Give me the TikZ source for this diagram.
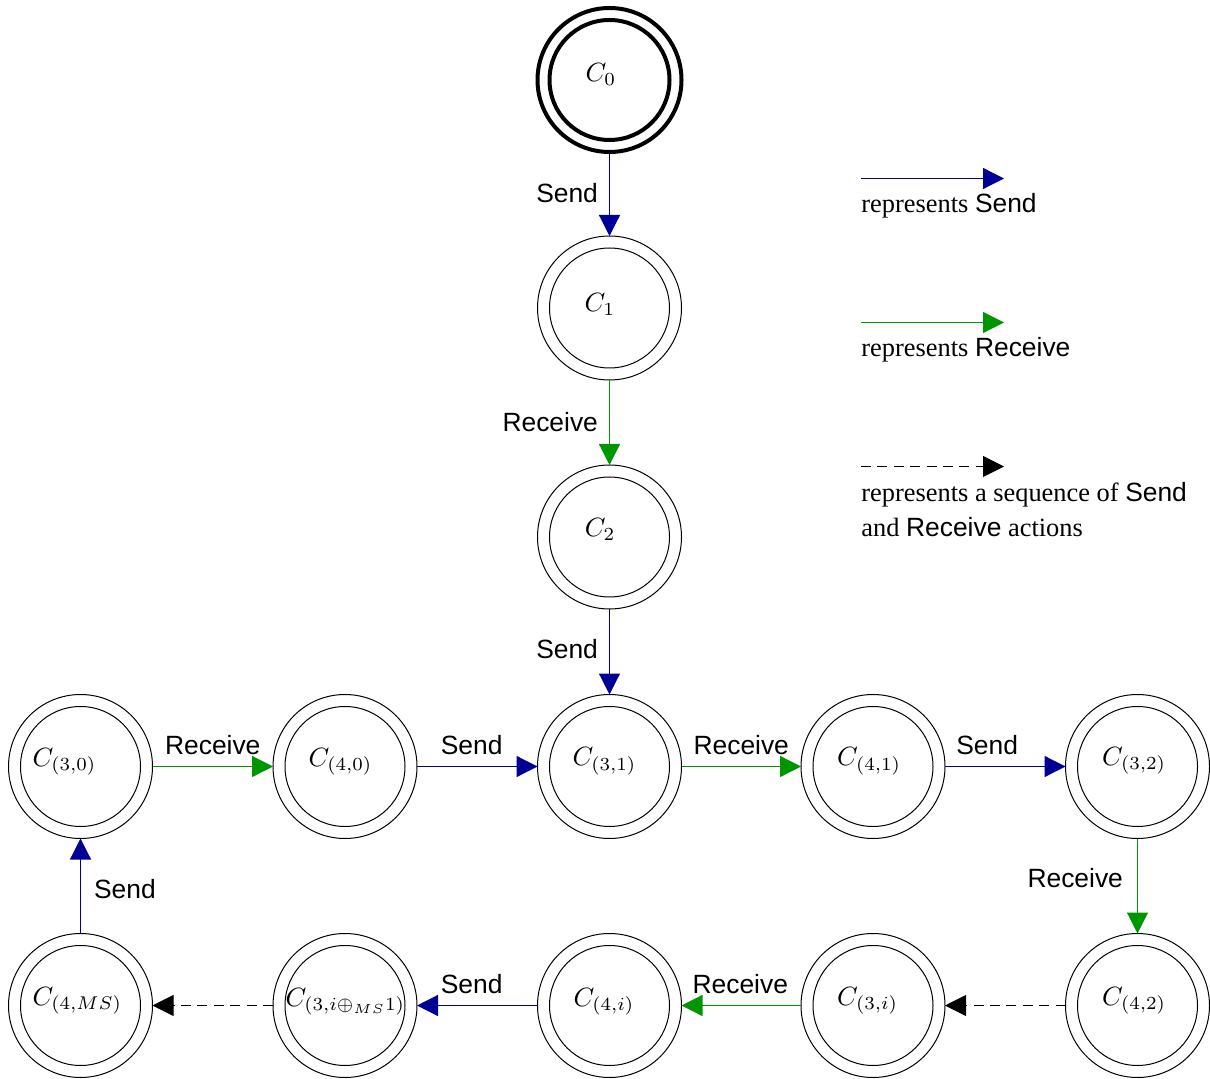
\documentclass[tikz,border=0pt]{standalone}
\usepackage[no-math]{fontspec}
\setmainfont{Liberation Serif}
\newfontfamily\actfont{Liberation Sans}
\usetikzlibrary{arrows.meta}
\definecolor{sendblue}{RGB}{0,0,150}
\definecolor{recvgreen}{RGB}{0,150,0}

\begin{document}
\begin{tikzpicture}[x=0.5pt,y=-0.5pt,
  font=\fontsize{13.2}{16}\selectfont,
  tip/.style={-{Triangle[length=10.5pt,width=10.5pt]}},
  state/.style={circle,draw,line width=0.5pt,minimum size=72pt,inner sep=0pt,outer sep=0pt,
    path picture={\draw[line width=0.5pt] (path picture bounding box.center) circle[radius=30pt];}},
  initstate/.style={circle,draw,line width=2pt,minimum size=72pt,inner sep=0pt,outer sep=0pt,
    path picture={\draw[line width=2pt] (path picture bounding box.center) circle[radius=30pt];}},
  statename/.style={anchor=base west,inner sep=0pt,font=\fontsize{10}{12}\selectfont,scale=1.32},
  sendE/.style={draw=sendblue,line width=0.6pt,tip},
  recvE/.style={draw=recvgreen,line width=0.6pt,tip},
  seqE/.style={draw=black,line width=0.5pt,dash pattern=on 5pt off 3.2pt,tip},
  lbl/.style={font=\actfont\fontsize{13.2}{16}\selectfont,inner sep=5.5pt},
  legtext/.style={anchor=base west,inner sep=0pt}
]
\useasboundingbox (0,0) rectangle (1210,1079);

% states
\node[initstate] (c0) at (609.5,80) {};
\node[state] (c1) at (609.5,308) {};
\node[state] (c2) at (609.5,537) {};

\node[state] (c30) at (80.5,766.5) {};
\node[state] (c40) at (345,766.5) {};
\node[state] (c31) at (609.5,766.5) {};
\node[state] (c41) at (873,766.5) {};
\node[state] (c32) at (1137.5,766.5) {};

\node[state] (c4ms) at (80.5,1005.5) {};
\node[state] (c3ip) at (345,1005.5) {};
\node[state] (c4i) at (609.5,1005.5) {};
\node[state] (c3i) at (873,1005.5) {};
\node[state] (c42) at (1137.5,1005.5) {};

% state names
\node[statename] (n0) at (585,81.5) {$C_0$};
\node[statename] (n1) at (584,311.5) {$C_1$};
\node[statename] (n2) at (584.3,537) {$C_2$};
\node[statename] (n30) at (32,766) {$C_{(3,0)}$};
\node[statename] (n40) at (308,766) {$C_{(4,0)}$};
\node[statename] (n31) at (572,765.5) {$C_{(3,1)}$};
\node[statename] (n41) at (836.7,765.7) {$C_{(4,1)}$};
\node[statename] (n32) at (1101.7,765) {$C_{(3,2)}$};
\node[statename] (n4ms) at (32,1005) {$C_{(4,MS)}$};
\node[statename] (n3ip) at (285,1006) {$C_{(3,i\oplus_{MS}1)}$};
\node[statename] (n4i) at (573,1006) {$C_{(4,i)}$};
\node[statename] (n3i) at (836.7,1005) {$C_{(3,i)}$};
\node[statename] (n42) at (1101.7,1005) {$C_{(4,2)}$};

% transitions
\draw[sendE] (c0) -- node[lbl,left,pos=0.485] {Send} (c1);
\draw[recvE] (c1) -- node[lbl,left] {Receive} (c2);
\draw[sendE] (c2) -- node[lbl,left,pos=0.47] {Send} (c31);

\draw[recvE] (c30) -- node[lbl,above] {Receive} (c40);
\draw[sendE] (c40) -- node[lbl,above,pos=0.454] {Send} (c31);
\draw[recvE] (c31) -- node[lbl,above] {Receive} (c41);
\draw[sendE] (c41) -- node[lbl,above,pos=0.35] {Send} (c32);

\draw[recvE] (c32) -- node[lbl,left,pos=0.42,inner sep=7pt] {Receive} (c42);
\draw[seqE] (c42) -- (c3i);
\draw[recvE] (c3i) -- node[lbl,above,pos=0.508] {Receive} (c4i);
\draw[sendE] (c4i) -- node[lbl,above,pos=0.546] {Send} (c3ip);
\draw[seqE] (c3ip) -- (c4ms);
\draw[sendE] (c4ms) -- node[lbl,right,pos=0.463,inner sep=6.5pt] {Send} (c30);

% legend
\coordinate (ls0) at (861,178.5);
\coordinate (ls1) at (1004,178.5);
\coordinate (lr0) at (861,322.5);
\coordinate (lr1) at (1004,322.5);
\coordinate (lq0) at (861,466.5);
\coordinate (lq1) at (1004,466.5);
\draw[sendE] (ls0) -- (ls1);
\draw[recvE] (lr0) -- (lr1);
\draw[seqE] (lq0) -- (lq1);
\node[legtext] (lst) at (861,213) {represents {\actfont Send}};
\node[legtext] (lrt) at (861,357) {represents {\actfont Receive}};
\node[legtext] (lqt) at (861,501.7) {represents a sequence of {\actfont Send}};
\node[legtext] (lqt2) at (861,536.7) {and {\actfont Receive} actions};
\end{tikzpicture}
\end{document}
